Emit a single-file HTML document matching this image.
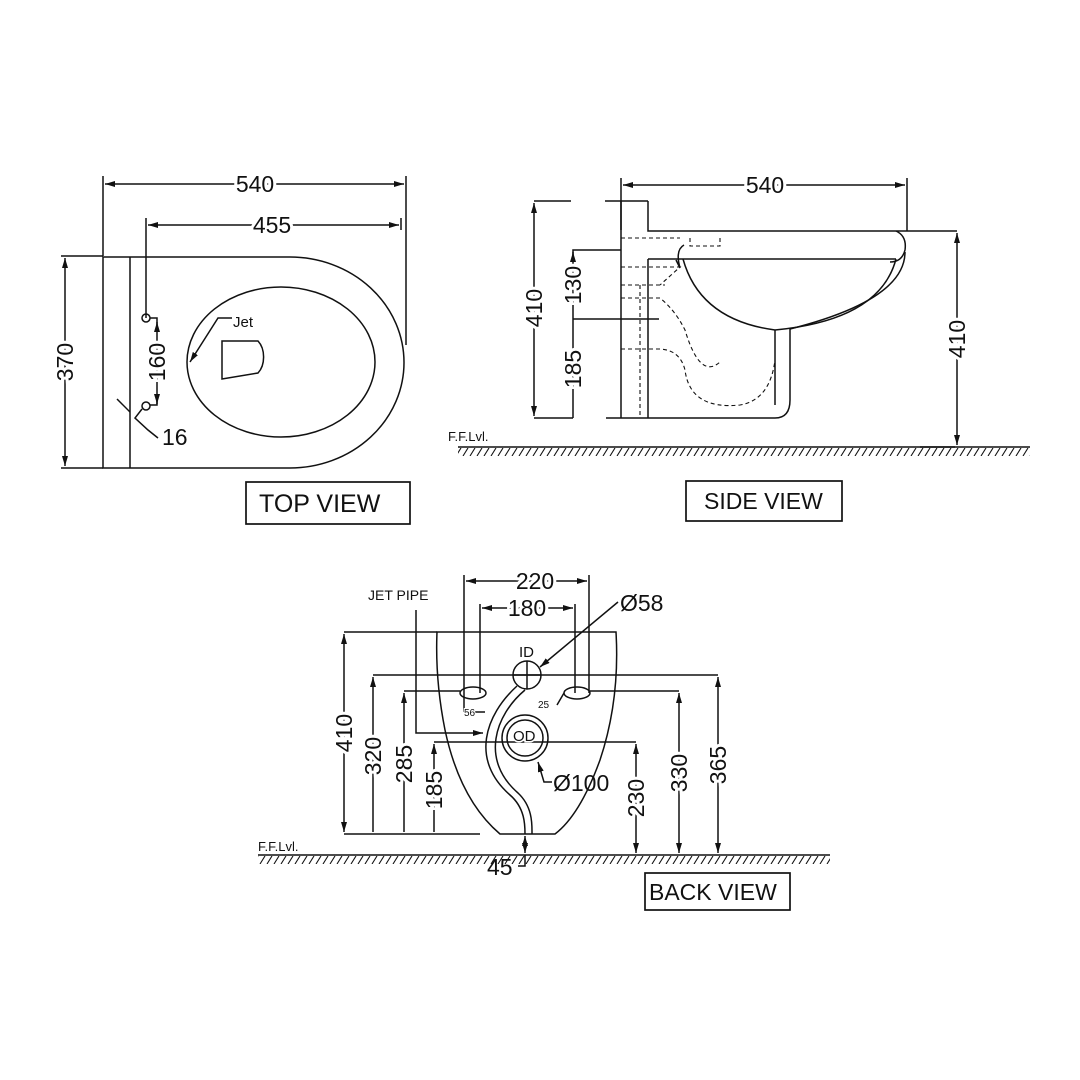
<!DOCTYPE html>
<html><head><style>
body{margin:0;background:#fff}
svg{display:block}
text{font-family:"Liberation Sans",sans-serif;fill:#111}
</style></head><body>
<svg width="1080" height="1080" viewBox="0 0 1080 1080" xmlns="http://www.w3.org/2000/svg">
<defs>
<marker id="a" markerWidth="10" markerHeight="6" refX="10" refY="3" orient="auto-start-reverse" markerUnits="userSpaceOnUse"><path d="M0,0 L10,3 L0,6 Z" fill="#111"/></marker>
<pattern id="h" width="7" height="8" patternUnits="userSpaceOnUse"><line x1="6" y1="0" x2="1" y2="8" stroke="#111" stroke-width="1.1"/></pattern>
</defs>
<g stroke="#111" stroke-width="1.5" fill="none">
<!-- TOP VIEW -->
<line x1="103" y1="176" x2="103" y2="256"/><line x1="406" y1="176" x2="406" y2="345"/>
<line x1="105" y1="184" x2="404" y2="184" marker-start="url(#a)" marker-end="url(#a)"/>
<line x1="146" y1="218" x2="146" y2="318"/><line x1="401" y1="218" x2="401" y2="230"/>
<line x1="148" y1="225" x2="399" y2="225" marker-start="url(#a)" marker-end="url(#a)"/>
<path d="M103,257 H290 A114,105.5 0 0 1 290,468 H103 Z"/>
<line x1="130" y1="257" x2="130" y2="468"/>
<ellipse cx="281" cy="362" rx="94" ry="75"/>
<path d="M222,341 H258 A14,20 0 0 1 258,373 L222,379 Z"/>
<line x1="61" y1="256" x2="103" y2="256"/><line x1="61" y1="468" x2="103" y2="468"/>
<line x1="65" y1="258" x2="65" y2="466" marker-start="url(#a)" marker-end="url(#a)"/>
<circle cx="146" cy="318" r="4"/><circle cx="146" cy="406" r="4"/>
<path d="M150,318 H157 V405 H150"/>
<line x1="157" y1="322" x2="157" y2="330" marker-start="url(#a)"/>
<line x1="157" y1="396" x2="157" y2="404" marker-end="url(#a)"/>
<line x1="117" y1="399" x2="130" y2="412"/>
<path d="M142,409 L135,418 L148,430 L158,438"/>
<path d="M232,318 H218 L190,362" marker-end="url(#a)"/>
<rect x="246" y="482" width="164" height="42" stroke-width="1.7"/>
<!-- SIDE VIEW -->
<line x1="621" y1="178" x2="621" y2="230"/><line x1="907" y1="178" x2="907" y2="231"/>
<line x1="623" y1="185" x2="905" y2="185" marker-start="url(#a)" marker-end="url(#a)"/>
<line x1="534" y1="201" x2="571" y2="201"/><line x1="534" y1="418" x2="573" y2="418"/>
<line x1="534" y1="203" x2="534" y2="416" marker-start="url(#a)" marker-end="url(#a)"/>
<path d="M621,250 H573 V418"/>
<line x1="573" y1="252" x2="573" y2="262" marker-start="url(#a)"/>
<line x1="573" y1="319" x2="659" y2="319"/>
<line x1="605" y1="201" x2="648" y2="201"/>
<path d="M621,201 V418 M648,201 V231 H957 M606,418 H775 Q790,418 790,400 V329"/>
<path d="M648,259 V418 M648,259 H896"/>
<path d="M896,231 Q907,236 905,250 Q902,262 890,262"/>
<path d="M905,252 Q905,300 790,329"/>
<path d="M683,259 Q700,320 775,330 Q880,320 896,259"/>
<path d="M775,330 V405"/>
<path d="M684,245 Q675,250 680,268 L676,260" />
<g stroke-dasharray="4,3" stroke-width="1.1">
<path d="M621,238 H680 M690,238 V246 H720 V238"/>
<path d="M621,267 H680 L660,285 M621,285 H665"/>
<path d="M621,298 H660 Q675,310 685,330 Q700,380 720,362"/>
<path d="M621,349 H660 Q680,350 685,370 Q690,410 740,405 Q770,400 775,360"/>
<path d="M640,285 V418"/>
</g>
<line x1="920" y1="447" x2="955" y2="447"/>
<line x1="957" y1="233" x2="957" y2="445" marker-start="url(#a)" marker-end="url(#a)"/>
<line x1="458" y1="447" x2="1030" y2="447"/>
<rect x="686" y="481" width="156" height="40" stroke-width="1.7"/>
<!-- BACK VIEW -->
<line x1="464" y1="575" x2="464" y2="693"/><line x1="589" y1="575" x2="589" y2="693"/>
<line x1="466" y1="581" x2="587" y2="581" marker-start="url(#a)" marker-end="url(#a)"/>
<line x1="480" y1="604" x2="480" y2="693"/><line x1="575" y1="604" x2="575" y2="693"/>
<line x1="482" y1="608" x2="573" y2="608" marker-start="url(#a)" marker-end="url(#a)"/>
<path d="M437,632 H616 Q620,700 600,760 Q580,815 555,834 H500 Q460,800 445,730 Q435,680 437,632 Z"/>
<circle cx="527" cy="675" r="14"/><line x1="513" y1="675" x2="541" y2="675"/><line x1="527" y1="661" x2="527" y2="689"/>
<circle cx="525" cy="738" r="23"/><circle cx="525" cy="738" r="18"/>
<ellipse cx="473" cy="693" rx="13" ry="6"/><ellipse cx="577" cy="693" rx="13" ry="6"/>
<line x1="464" y1="693" x2="464" y2="712"/><line x1="464" y1="712" x2="485" y2="712"/>
<path d="M564,693 L557,705"/>
<path d="M517,686 C485,715 470,760 510,795 C525,808 525,825 525,834"/>
<path d="M525,690 C495,715 480,760 518,793 C533,807 532,825 532,834"/>
<line x1="344" y1="632" x2="437" y2="632"/><line x1="344" y1="834" x2="480" y2="834"/>
<line x1="344" y1="634" x2="344" y2="832" marker-start="url(#a)" marker-end="url(#a)"/>
<line x1="373" y1="675" x2="718" y2="675"/>
<line x1="373" y1="677" x2="373" y2="832" marker-start="url(#a)"/>
<line x1="404" y1="691" x2="460" y2="691"/><line x1="590" y1="691" x2="679" y2="691"/>
<line x1="404" y1="693" x2="404" y2="832" marker-start="url(#a)"/>
<line x1="434" y1="742" x2="636" y2="742"/>
<line x1="434" y1="744" x2="434" y2="832" marker-start="url(#a)"/>
<line x1="636" y1="744" x2="636" y2="853" marker-start="url(#a)" marker-end="url(#a)"/>
<line x1="679" y1="693" x2="679" y2="853" marker-start="url(#a)" marker-end="url(#a)"/>
<line x1="718" y1="677" x2="718" y2="853" marker-start="url(#a)" marker-end="url(#a)"/>
<path d="M416,610 V733 H483" marker-end="url(#a)"/>
<path d="M618,602 L540,667" marker-end="url(#a)"/>
<path d="M552,782 H544 L538,762" marker-end="url(#a)"/>
<line x1="525" y1="836" x2="525" y2="853" marker-start="url(#a)" marker-end="url(#a)"/>
<path d="M525,855 V866 H518"/>
<line x1="258" y1="855" x2="830" y2="855"/>
<rect x="645" y="873" width="145" height="37" stroke-width="1.7"/>
</g>
<rect x="458" y="448" width="572" height="8" fill="url(#h)"/>
<rect x="258" y="856" width="572" height="8" fill="url(#h)"/>
<g font-size="23">
<text x="255" y="192" text-anchor="middle" style="paint-order:stroke" stroke="#fff" stroke-width="6">540</text>
<text x="272" y="233" text-anchor="middle" stroke="#fff" stroke-width="6" style="paint-order:stroke">455</text>
<text transform="translate(73,362) rotate(-90)" text-anchor="middle" stroke="#fff" stroke-width="6" style="paint-order:stroke">370</text>
<text transform="translate(165,362) rotate(-90)" text-anchor="middle" stroke="#fff" stroke-width="6" style="paint-order:stroke">160</text>
<text x="162" y="445">16</text>
<text x="259" y="512" font-size="25">TOP VIEW</text>
<text x="765" y="193" text-anchor="middle" stroke="#fff" stroke-width="6" style="paint-order:stroke">540</text>
<text transform="translate(542,308) rotate(-90)" text-anchor="middle" stroke="#fff" stroke-width="6" style="paint-order:stroke">410</text>
<text transform="translate(581,285) rotate(-90)" text-anchor="middle" stroke="#fff" stroke-width="6" style="paint-order:stroke">130</text>
<text transform="translate(581,369) rotate(-90)" text-anchor="middle" stroke="#fff" stroke-width="6" style="paint-order:stroke">185</text>
<text transform="translate(965,339) rotate(-90)" text-anchor="middle" stroke="#fff" stroke-width="6" style="paint-order:stroke">410</text>
<text x="704" y="509">SIDE VIEW</text>
<text x="535" y="589" text-anchor="middle" stroke="#fff" stroke-width="6" style="paint-order:stroke">220</text>
<text x="527" y="616" text-anchor="middle" stroke="#fff" stroke-width="6" style="paint-order:stroke">180</text>
<text x="620" y="611">Ø58</text>
<text x="553" y="791">Ø100</text>
<text transform="translate(352,733) rotate(-90)" text-anchor="middle" stroke="#fff" stroke-width="6" style="paint-order:stroke">410</text>
<text transform="translate(381,756) rotate(-90)" text-anchor="middle" stroke="#fff" stroke-width="6" style="paint-order:stroke">320</text>
<text transform="translate(412,764) rotate(-90)" text-anchor="middle" stroke="#fff" stroke-width="6" style="paint-order:stroke">285</text>
<text transform="translate(442,790) rotate(-90)" text-anchor="middle" stroke="#fff" stroke-width="6" style="paint-order:stroke">185</text>
<text transform="translate(644,798) rotate(-90)" text-anchor="middle" stroke="#fff" stroke-width="6" style="paint-order:stroke">230</text>
<text transform="translate(687,773) rotate(-90)" text-anchor="middle" stroke="#fff" stroke-width="6" style="paint-order:stroke">330</text>
<text transform="translate(726,765) rotate(-90)" text-anchor="middle" stroke="#fff" stroke-width="6" style="paint-order:stroke">365</text>
<text x="487" y="875">45</text>
<text x="649" y="900">BACK VIEW</text>
</g>
<g font-size="15">
<text x="233" y="327">Jet</text>
<text x="519" y="657">ID</text>
<text x="513" y="741" stroke="#fff" stroke-width="3" style="paint-order:stroke">OD</text>
<text x="368" y="600" font-size="14">JET PIPE</text>
</g>
<g font-size="10">
<text x="464" y="716" stroke="#fff" stroke-width="2" style="paint-order:stroke">56</text>
<text x="538" y="708">25</text>
</g>
<g font-size="13">
<text x="448" y="441">F.F.Lvl.</text>
<text x="258" y="851">F.F.Lvl.</text>
</g>
</svg>
</body></html>
